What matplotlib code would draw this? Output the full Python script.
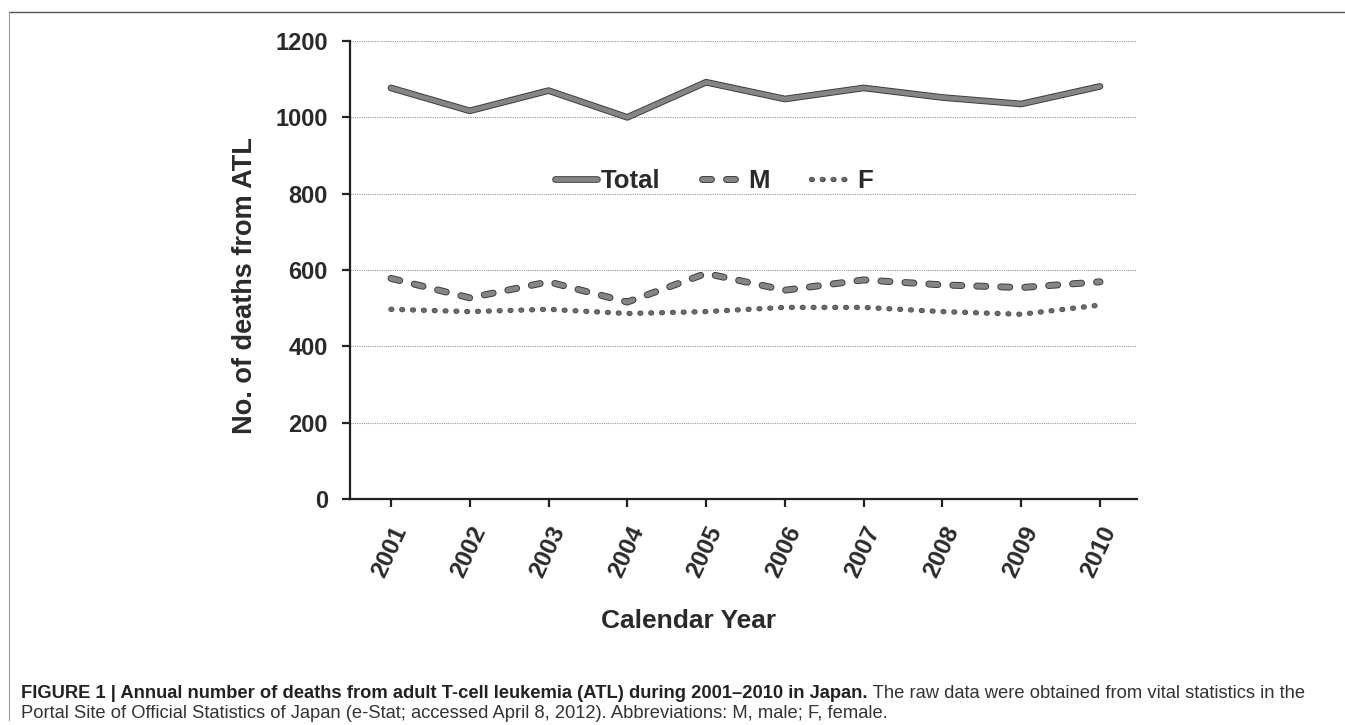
import matplotlib
matplotlib.use("Agg")
import matplotlib.pyplot as plt
import matplotlib.patheffects as pe
from matplotlib.lines import Line2D

plt.rcParams['font.family'] = ['Liberation Sans', 'DejaVu Sans']

years = ['2001', '2002', '2003', '2004', '2005', '2006', '2007', '2008', '2009', '2010']
total = [1077, 1017, 1070, 1000, 1092, 1048, 1077, 1052, 1035, 1081]
male = [578, 527, 569, 516, 591, 547, 574, 561, 554, 569]
female = [497, 491, 497, 486, 491, 502, 502, 491, 484, 508]

fill_col = '#858585'
edge_col = '#3c3c3c'
text_col = '#2a2a2a'


def outline(w):
    # grey line with a darker rim, like the scanned figure
    return [pe.Stroke(linewidth=w + 1.4, foreground=edge_col), pe.Normal()]


fig = plt.figure(figsize=(13.45, 7.25), dpi=100)
ax = fig.add_axes([350 / 1345, 1 - 499 / 725, (1137 - 350) / 1345, (499 - 41) / 725])

x = list(range(len(years)))
ax.plot(x, total, color=fill_col, lw=3.4, solid_capstyle='round', label='Total',
        path_effects=outline(3.4))
ax.plot(x, male, color=fill_col, lw=3.6, dashes=(1.8, 3.0), dash_capstyle='round', label='M',
        path_effects=outline(3.6))
ax.plot(x, female, color='#6a6a6a', lw=3.0, dashes=(0.2, 2.4), dash_capstyle='round', label='F',
        path_effects=[pe.Stroke(linewidth=3.8, foreground='#444444'), pe.Normal()])

ax.set_xlim(-0.52, 9.47)
ax.set_ylim(0, 1200)
ax.set_yticks(range(0, 1201, 200))
ax.set_xticks(x)
ax.set_xticklabels(years, rotation=65, ha='right', va='top', rotation_mode='anchor',
                   fontsize=17.5, fontweight='bold', color=text_col)
for lab in ax.get_yticklabels():
    lab.set_fontsize(17)
    lab.set_fontweight('bold')
    lab.set_color(text_col)

ax.grid(axis='y', linestyle=(0, (1, 1)), color='#999999', lw=0.8)
ax.set_axisbelow(True)
for s in ['top', 'right']:
    ax.spines[s].set_visible(False)
for s in ['left', 'bottom']:
    ax.spines[s].set_linewidth(1.6)
    ax.spines[s].set_color('#222222')
ax.tick_params(axis='both', direction='out', length=6, width=1.6, color='#222222')
ax.tick_params(axis='y', pad=10)
ax.tick_params(axis='x', pad=11)

ax.set_ylabel('No. of deaths from ATL', fontsize=19.5, fontweight='bold', color=text_col)
ax.yaxis.set_label_coords(-0.117, 0.467)
ax.set_xlabel('Calendar Year', fontsize=19, fontweight='bold', color=text_col)
ax.xaxis.set_label_coords(0.43, -0.24)

ax.legend(loc='center', bbox_to_anchor=(0.462, 0.695), ncol=3, frameon=False,
          prop={'weight': 'bold', 'size': 18.5}, handlelength=1.65, handletextpad=0.15,
          columnspacing=1.6, labelcolor=text_col)

# caption
cap_y1 = 1 - 693 / 725
cap_y2 = 1 - 714 / 725
cap1_bold = 'FIGURE 1 | Annual number of deaths from adult T-cell leukemia (ATL) during 2001\u20132010 in Japan.'
cap1_rest = ' The raw data were obtained from vital statistics in the'
cap2 = 'Portal Site of Official Statistics of Japan (e-Stat; accessed April 8, 2012). Abbreviations: M, male; F, female.'
t1 = fig.text(21 / 1345, cap_y1, cap1_bold, fontsize=13.2, fontweight='bold',
              color='#222222', va='center', ha='left')
fig.canvas.draw()
bb = t1.get_window_extent()
fig.text(bb.x1 / fig.bbox.width, cap_y1, cap1_rest, fontsize=13.2,
         color='#333333', va='center', ha='left')
fig.text(21 / 1345, cap_y2, cap2, fontsize=13.2, color='#333333', va='center', ha='left')

# frame lines
fig.add_artist(Line2D([9 / 1345, 1], [1 - 12 / 725] * 2, color='#555555', lw=1))
fig.add_artist(Line2D([9 / 1345] * 2, [1 - 12 / 725, 1 - 720 / 725], color='#999999', lw=0.8))

fig.savefig('out.png', dpi=100)
